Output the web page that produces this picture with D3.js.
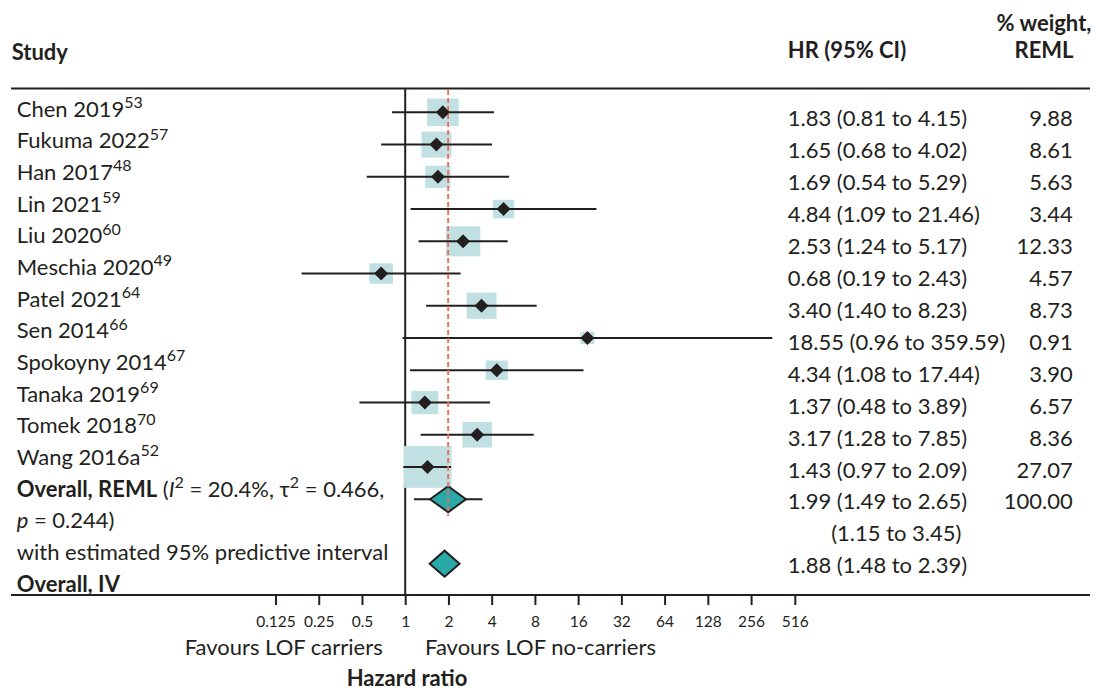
<!DOCTYPE html>
<html>
<head>
<meta charset="utf-8">
<script src="https://cdn.jsdelivr.net/npm/d3@7"></script>
<style>
  html, body { margin: 0; padding: 0; background: #ffffff; }
  svg { display: block; font-family: Lato, "Noto Sans", sans-serif; }
</style>
</head>
<body>
<svg id="chart" width="1096" height="690"></svg>
<script>
// ---- Study-level data ----
const studies = ["Chen 2019", "Fukuma 2022", "Han 2017", "Lin 2021", "Liu 2020", "Meschia 2020",
                 "Patel 2021", "Sen 2014", "Spokoyny 2014", "Tanaka 2019", "Tomek 2018", "Wang 2016a"];
const refs    = ["53", "57", "48", "59", "60", "49", "64", "66", "67", "69", "70", "52"];
const hr      = [1.83, 1.65, 1.69, 4.84, 2.53, 0.68, 3.40, 18.55, 4.34, 1.37, 3.17, 1.43];
const ciLow   = [0.81, 0.68, 0.54, 1.09, 1.24, 0.19, 1.40, 0.96, 1.08, 0.48, 1.28, 0.97];
const ciHigh  = [4.15, 4.02, 5.29, 21.46, 5.17, 2.43, 8.23, 359.59, 17.44, 3.89, 7.85, 2.09];
const weights = [9.88, 8.61, 5.63, 3.44, 12.33, 4.57, 8.73, 0.91, 3.90, 6.57, 8.36, 27.07];

// ---- Pooled estimates ----
const remlEst = [1.99, 1.49, 2.65];      // HR, lower, upper
const remlPred = [1.15, 3.45];           // predictive interval
const remlWeight = 100.00;
const ivEst = [1.88, 1.48, 2.39];

// ---- Axis ticks ----
const tickVals = [0.125, 0.25, 0.5, 1, 2, 4, 8, 16, 32, 64, 128, 256, 516];

const fmt2 = d3.format(".2f");
const ink = "#231f20";
const fs = 22;
const supFs = 16;
const supShift = 8.6;

const svg = d3.select("#chart");

// Horizontal hazard-ratio scale (log base 2)
const x = d3.scaleLog().base(2).domain([0.125, 512]).range([275.5, 794.3]);

// Row positions: markers, left labels, right-hand text columns
const yMark  = d3.scaleLinear().domain([0, 14]).range([112.3, 563.7]);
const yLeft  = d3.scaleLinear().domain([0, 15]).range([116.5, 591.5]);
const yRight = d3.scaleLinear().domain([0, 14]).range([126.0, 573.4]);

// Box size by weight
const boxW = d3.scaleSqrt().domain([0, 30]).range([6.4, 50.2]);

const axisY = 595;
const topY = 88.5;

// ---- Headers ----
svg.append("text").attr("x", 11.7).attr("y", 59.5)
  .attr("font-size", fs).attr("font-weight", 700).attr("fill", ink).text("Study");
svg.append("text").attr("x", 787.7).attr("y", 58)
  .attr("font-size", fs).attr("font-weight", 700).attr("fill", ink).text("HR (95% CI)");
svg.append("text").attr("x", 1044).attr("y", 31).attr("text-anchor", "middle")
  .attr("font-size", fs).attr("font-weight", 700).attr("fill", ink).text("% weight,");
svg.append("text").attr("x", 1044).attr("y", 58).attr("text-anchor", "middle")
  .attr("font-size", fs).attr("font-weight", 700).attr("fill", ink).text("REML");

// ---- Frame lines ----
svg.append("line").attr("x1", 11).attr("x2", 1090).attr("y1", topY).attr("y2", topY)
  .attr("stroke", ink).attr("stroke-width", 2);
svg.append("line").attr("x1", 11).attr("x2", 1090).attr("y1", axisY).attr("y2", axisY)
  .attr("stroke", ink).attr("stroke-width", 2);
svg.append("line").attr("x1", x(1)).attr("x2", x(1)).attr("y1", topY).attr("y2", axisY)
  .attr("stroke", ink).attr("stroke-width", 2);

const rows = studies.map((s, i) => ({
  name: s, ref: refs[i], hr: hr[i], lo: ciLow[i], hi: ciHigh[i], w: weights[i], i
}));

// ---- Weight boxes ----
svg.append("g").selectAll("rect").data(rows).join("rect")
  .attr("x", d => x(d.hr) - boxW(d.w) / 2)
  .attr("y", d => yMark(d.i) - boxW(d.w) * 0.87 / 2)
  .attr("width", d => boxW(d.w))
  .attr("height", d => boxW(d.w) * 0.87)
  .attr("fill", "#c1e0e2");

// ---- Confidence intervals ----
svg.append("g").selectAll("line").data(rows).join("line")
  .attr("x1", d => x(d.lo))
  .attr("x2", d => x(d.hi))
  .attr("y1", d => yMark(d.i)).attr("y2", d => yMark(d.i))
  .attr("stroke", ink).attr("stroke-width", 2);

// ---- Pooled estimates ----
const dh = 13;
function diamond(est, yc) {
  return [[x(est[1]), yc], [x(est[0]), yc - dh], [x(est[2]), yc], [x(est[0]), yc + dh]];
}
svg.append("line")
  .attr("x1", x(remlPred[0])).attr("x2", x(remlPred[1]))
  .attr("y1", yMark(12)).attr("y2", yMark(12))
  .attr("stroke", ink).attr("stroke-width", 2);
svg.append("g").selectAll("polygon").data([diamond(remlEst, yMark(12)), diamond(ivEst, yMark(14))])
  .join("polygon")
  .attr("points", d => d.map(p => p.join(",")).join(" "))
  .attr("fill", "#2aa9a9").attr("stroke", ink).attr("stroke-width", 2).attr("stroke-linejoin", "miter");

// ---- Overall effect reference line ----
svg.append("line")
  .attr("x1", x(remlEst[0])).attr("x2", x(remlEst[0]))
  .attr("y1", 90).attr("y2", 516)
  .attr("stroke", "#f0695a").attr("stroke-width", 1.8).attr("stroke-dasharray", "5,3");

// ---- Point estimates ----
svg.append("g").selectAll("path").data(rows).join("path")
  .attr("transform", d => `translate(${x(d.hr)},${yMark(d.i)}) rotate(45)`)
  .attr("d", d3.symbol(d3.symbolSquare, 98))
  .attr("fill", ink);

// ---- Left-hand labels ----
const left = svg.append("g").attr("font-size", fs).attr("fill", ink);
rows.forEach(d => {
  const t = left.append("text").attr("x", 16.7).attr("y", yLeft(d.i));
  t.append("tspan").text(d.name);
  t.append("tspan").attr("font-size", supFs).attr("dy", -supShift).text(d.ref);
});
{
  const t = left.append("text").attr("x", 16.7).attr("y", yLeft(12));
  t.append("tspan").attr("font-weight", 700).text("Overall, REML");
  t.append("tspan").text(" (");
  t.append("tspan").attr("font-style", "italic").text("I");
  t.append("tspan").attr("font-size", supFs).attr("dy", -supShift).text("2");
  t.append("tspan").attr("dy", supShift).text(" = 20.4%, \u03C4");
  t.append("tspan").attr("font-size", supFs).attr("dy", -supShift).text("2");
  t.append("tspan").attr("dy", supShift).text(" = 0.466,");
  const t2 = left.append("text").attr("x", 16.7).attr("y", yLeft(13));
  t2.append("tspan").attr("font-style", "italic").text("p");
  t2.append("tspan").text(" = 0.244)");
  left.append("text").attr("x", 16.7).attr("y", yLeft(14)).text("with estimated 95% predictive interval");
  left.append("text").attr("x", 16.7).attr("y", yLeft(15)).attr("font-weight", 700).text("Overall, IV");
}

// ---- Right-hand columns ----
const right = svg.append("g").attr("font-size", fs).attr("fill", ink);
const hrX = 787.7, wX = 1072.7;
const ciText = e => `${fmt2(e[0])} (${fmt2(e[1])} to ${fmt2(e[2])})`;
rows.forEach(d => {
  right.append("text").attr("x", hrX).attr("y", yRight(d.i)).text(ciText([d.hr, d.lo, d.hi]));
  right.append("text").attr("x", wX).attr("y", yRight(d.i)).attr("text-anchor", "end").text(fmt2(d.w));
});
right.append("text").attr("x", hrX).attr("y", yRight(12)).text(ciText(remlEst));
right.append("text").attr("x", wX).attr("y", yRight(12)).attr("text-anchor", "end").text(fmt2(remlWeight));
// predictive interval aligned with the opening bracket of the pooled row
const probe = right.append("text").attr("x", hrX).attr("y", -100).text(fmt2(remlEst[0]) + " ");
const prefixW = probe.node().getComputedTextLength();
probe.remove();
right.append("text").attr("x", hrX + prefixW).attr("y", yRight(13))
  .text(`(${fmt2(remlPred[0])} to ${fmt2(remlPred[1])})`);
right.append("text").attr("x", hrX).attr("y", yRight(14)).text(ciText(ivEst));

// ---- X axis ----
const axis = d3.axisBottom(x)
  .tickValues(tickVals)
  .tickSize(10)
  .tickPadding(10.5)
  .tickFormat(d => String(d));
const ax = svg.append("g").attr("transform", `translate(0,${axisY})`).call(axis);
ax.select(".domain").remove();
ax.selectAll(".tick line").attr("stroke", ink).attr("stroke-width", 2);
ax.selectAll(".tick text").attr("fill", ink).attr("font-size", 15.5)
  .attr("font-family", "Lato, 'Noto Sans', sans-serif");

svg.append("text").attr("x", 382.7).attr("y", 655.2).attr("text-anchor", "end")
  .attr("font-size", fs).attr("fill", ink).text("Favours LOF carriers");
svg.append("text").attr("x", 425).attr("y", 655.2)
  .attr("font-size", fs).attr("fill", ink).text("Favours LOF no-carriers");
svg.append("text").attr("x", 407).attr("y", 686).attr("text-anchor", "middle")
  .attr("font-size", fs).attr("font-weight", 700).attr("fill", ink).text("Hazard ratio");
</script>
</body>
</html>
